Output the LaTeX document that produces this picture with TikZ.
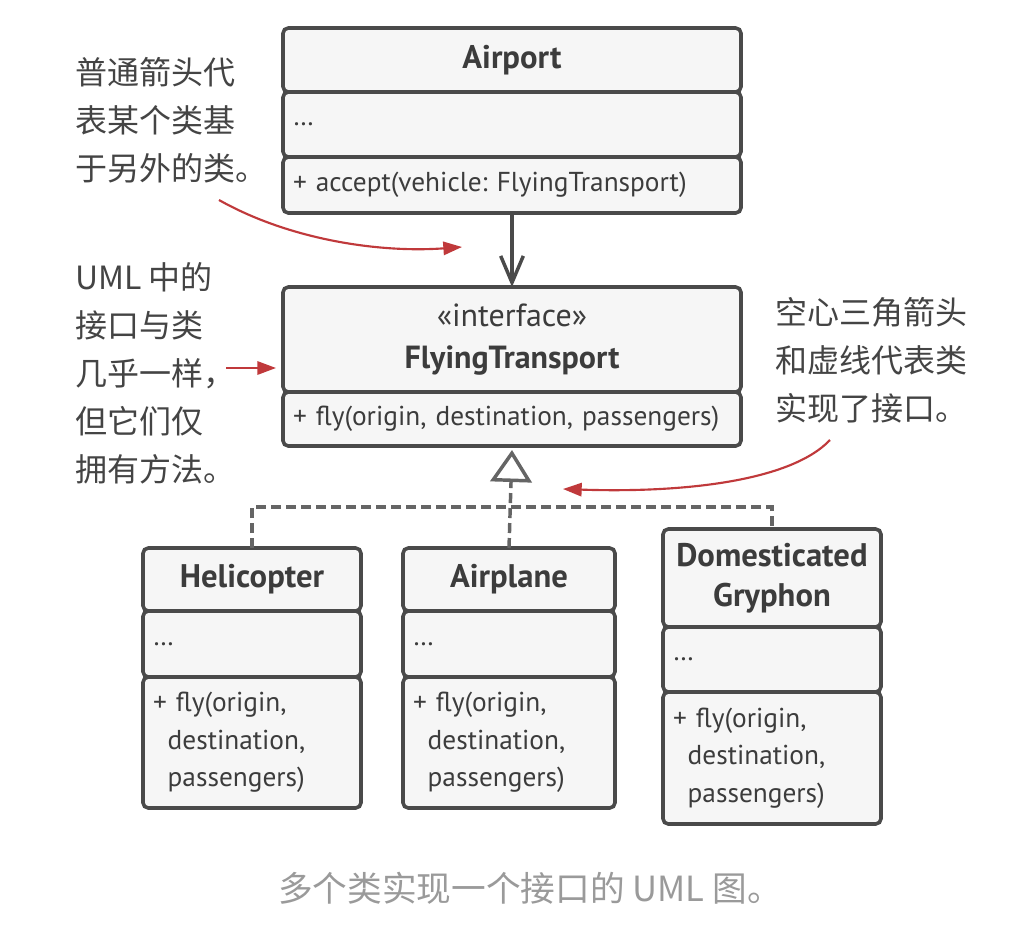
\documentclass[tikz,border=0pt]{standalone}
\usepackage{fontspec}
\setmainfont{PT Sans}
\newfontfamily\cjk{Noto Sans CJK SC}
\usetikzlibrary{arrows.meta}
\frenchspacing
\definecolor{umlLine}{HTML}{4A4A4A}
\definecolor{umlFill}{HTML}{F6F6F6}
\definecolor{umlInk}{HTML}{3C3C3C}
\definecolor{noteRed}{HTML}{C0393B}
\definecolor{noteInk}{HTML}{444444}
\definecolor{captionInk}{HTML}{9A9A9A}
\tikzset{
  umlPart/.style={draw=umlLine, fill=umlFill, line width=2.7pt, rounded corners=4pt, anchor=north west, inner xsep=7.5pt, inner ysep=0pt, outer sep=0pt, text=umlInk},
  umlHead/.style={umlPart, align=center, font=\fontsize{24.5}{30}\selectfont\bfseries},
  umlBody/.style={umlPart, align=left, font=\fontsize{20.5}{28}\selectfont},
  umlDepend/.style={draw=umlLine, line width=2.6pt, -{Straight Barb[length=20pt, width=17pt]}},
  umlRealize/.style={draw=umlLine!85, line width=2.6pt, dash pattern=on 7.5pt off 3.75pt},
  umlTip/.style={-{Triangle[open, length=24pt, width=31pt]}},
  noteLabel/.style={align=left, inner sep=0pt, anchor=west, text=noteInk, font=\cjk\fontsize{24}{36}\selectfont},
  noteArrow/.style={draw=noteRed, line width=1.6pt, -{Triangle[length=14pt, width=10pt]}},
  captionLabel/.style={inner sep=0pt, text=captionInk, font=\cjk\fontsize{26}{30}\selectfont}
}
\begin{document}
\begin{tikzpicture}[x=0.75pt, y=-0.75pt]
  \useasboundingbox[fill=white] (0,0) rectangle (1022,936);
  % Airport
  \node[umlHead, text width=328.5pt, minimum height=48pt] (airHead) at (283,28) {Airport};
  \node[umlBody, text width=328.5pt, minimum height=48.75pt] (airAttr) at (283,92) {\dots};
  \node[umlBody, text width=328.5pt, minimum height=42pt] (airMeth) at (283,157) {+ accept(vehicle: FlyingTransport)};
  % interface
  \node[umlHead, text width=328.5pt, minimum height=78.75pt, font=\fontsize{24}{31.5}\selectfont] (ftHead) at (283,287) {«interface»\\\textbf{FlyingTransport}};
  \node[umlBody, text width=328.5pt, minimum height=40.5pt] (ftMeth) at (283,392) {+ fly(origin, destination, passengers)};
  % classes
  \node[umlHead, text width=148.5pt, minimum height=47.25pt] (heliHead) at (143,548) {Helicopter};
  \node[umlBody, text width=148.5pt, minimum height=49.5pt] (heliAttr) at (143,611) {\dots};
  \node[umlBody, text width=148.5pt, minimum height=98.25pt] (heliMeth) at (143,677) {+ fly(origin,\\\hspace*{11pt}destination,\\\hspace*{11pt}passengers)};
  \node[umlHead, text width=144pt, minimum height=47.25pt] (planeHead) at (403,548) {Airplane};
  \node[umlBody, text width=144pt, minimum height=49.5pt] (planeAttr) at (403,611) {\dots};
  \node[umlBody, text width=144pt, minimum height=98.25pt] (planeMeth) at (403,677) {+ fly(origin,\\\hspace*{11pt}destination,\\\hspace*{11pt}passengers)};
  \node[umlHead, text width=148.5pt, minimum height=73.5pt] (gryHead) at (663,529) {Domesticated\\Gryphon};
  \node[umlBody, text width=148.5pt, minimum height=48.75pt] (gryAttr) at (663,627) {\dots};
  \node[umlBody, text width=148.5pt, minimum height=99pt] (gryMeth) at (663,692) {+ fly(origin,\\\hspace*{11pt}destination,\\\hspace*{11pt}passengers)};
  % relations
  \coordinate (bus) at (512,507);
  \draw[umlDepend] (airMeth.south) -- (ftHead.north);
  \draw[umlRealize] (heliHead.north) |- (bus) -| (gryHead.north);
  \draw[umlRealize, umlTip] (planeHead.north) -- ([yshift=-3pt]ftMeth.south);
  % notes
  \node[noteLabel] (noteDepend) at (75,120) {普通箭头代\\表某个类基\\于另外的类。};
  \node[noteLabel] (noteIface) at (75,373) {UML 中的\\接口与类\\几乎一样，\\但它们仅\\拥有方法。};
  \node[noteLabel] (noteRealize) at (775,360) {空心三角箭头\\和虚线代表类\\实现了接口。};
  \coordinate (dependFrom) at (219,200);
  \coordinate (dependTo) at (462,247);
  \coordinate (ifaceFrom) at (226,368);
  \coordinate (ifaceTo) at (276,368);
  \coordinate (realizeFrom) at (830,440);
  \coordinate (realizeTo) at (563,489);
  \draw[noteArrow] (dependFrom) .. controls (290,240) and (380,253) .. (dependTo);
  \draw[noteArrow] (ifaceFrom) -- (ifaceTo);
  \draw[noteArrow] (realizeFrom) .. controls (790,482) and (680,493) .. (realizeTo);
  % caption
  \node[captionLabel] (caption) at (530,888) {多个类实现一个接口的 UML 图。};
\end{tikzpicture}
\end{document}
